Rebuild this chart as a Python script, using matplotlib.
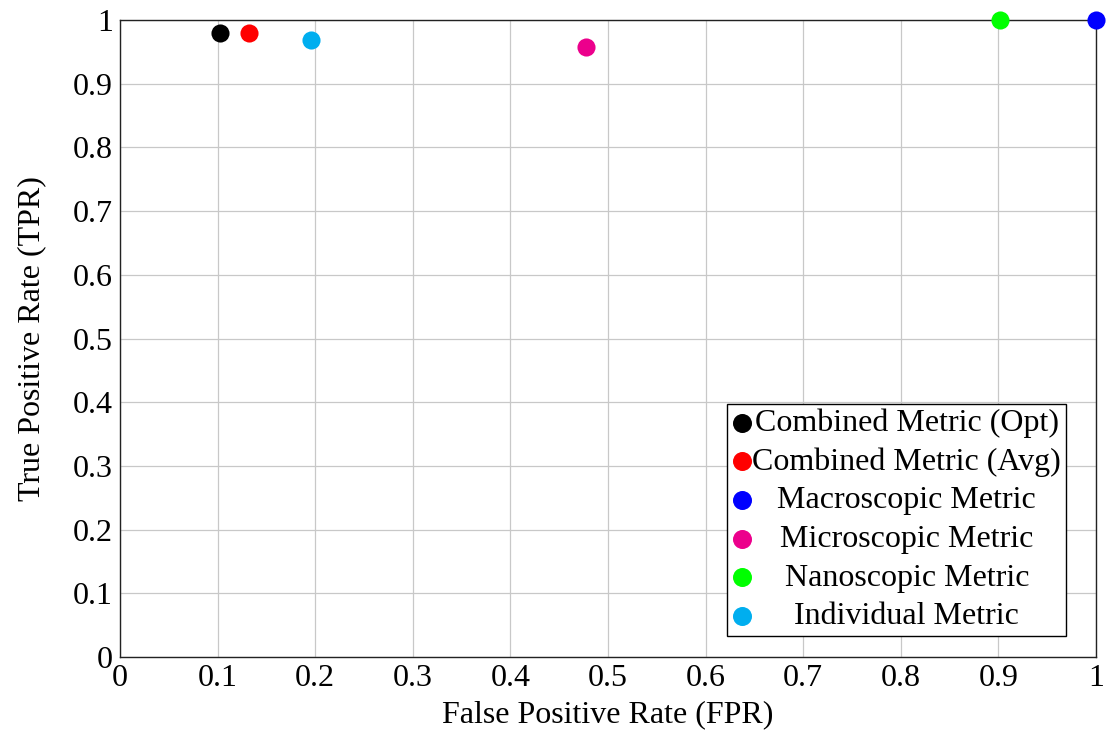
import matplotlib
matplotlib.use("Agg")
import matplotlib.pyplot as plt
import numpy as np

plt.rcParams["font.family"] = ["Liberation Serif", "DejaVu Serif"]

labels = ["Combined Metric (Opt)", "Combined Metric (Avg)", "Macroscopic Metric",
          "Microscopic Metric", "Nanoscopic Metric", "Individual Metric"]
fpr = [0.1025, 0.132, 1.0, 0.4775, 0.9016, 0.1955]
tpr = [0.9796, 0.9796, 1.0, 0.9576, 1.0, 0.968]
colors = ["black", "red", "blue", "#EC008C", "#00FF00", "#00AEEF"]

ticks = np.arange(0, 1.01, 0.1)
tick_labels = ["0"] + ["%.1f" % t for t in ticks[1:-1]] + ["1"]

fig = plt.figure(figsize=(11.07, 7.36), dpi=100)
ax = fig.add_axes([0.1084, 0.1073, 0.8816, 0.8655])

for x, y, c, lab in zip(fpr, tpr, colors, labels):
    ax.scatter(x, y, s=170, color=c, label=lab, zorder=5, clip_on=False, linewidths=0)

ax.set_xlim(0, 1)
ax.set_ylim(0, 1)
ax.set_xticks(ticks)
ax.set_xticklabels(tick_labels)
ax.set_yticks(ticks)
ax.set_yticklabels(tick_labels)
ax.tick_params(labelsize=23, length=0, pad=5)
ax.grid(True, color="#c8c8c8", linewidth=0.9)
ax.set_axisbelow(True)
for sp in ax.spines.values():
    sp.set_color("#222222")
    sp.set_linewidth(1.0)

ax.set_xlabel("False Positive Rate (FPR)", fontsize=23, labelpad=5)
ax.set_ylabel("True Positive Rate (TPR)", fontsize=23, labelpad=19)

leg = ax.legend(loc="lower right", bbox_to_anchor=(0.9693, 0.033), borderaxespad=0,
                fontsize=23, frameon=True, fancybox=False,
                edgecolor="black", framealpha=1, handletextpad=0.0,
                handlelength=0.65, labelspacing=0.29, borderpad=0.15,
                scatterpoints=1, markerscale=1.05)
leg.get_frame().set_linewidth(1.0)

# center the legend texts, markers stay on the left
fig.canvas.draw()
r = fig.canvas.get_renderer()
texts = leg.get_texts()
widths = [t.get_window_extent(r).width for t in texts]
maxw = max(widths)
col = leg._legend_handle_box.get_children()[0]
for box, w in zip(col.get_children(), widths):
    box.sep = box.sep + (maxw - w) / 2 * 72 / fig.dpi

fig.savefig("out.png", dpi=100)
